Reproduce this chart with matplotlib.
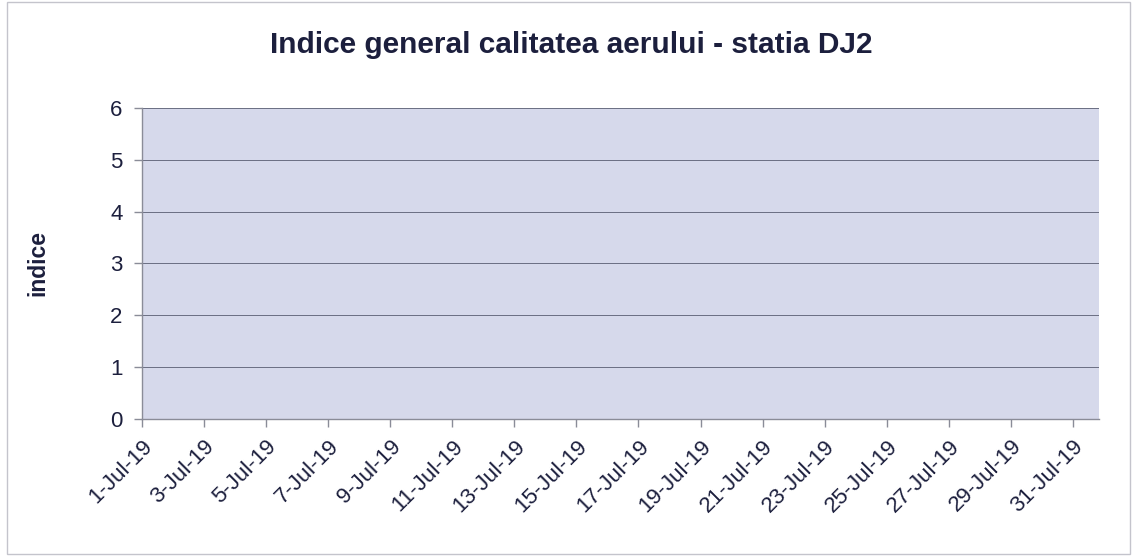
import matplotlib.pyplot as plt
import numpy as np
import pandas as pd

# daily dates for July 2019; the station reported no index values
dates = pd.date_range('2019-07-01', '2019-07-31', freq='D')
indice = [np.nan] * len(dates)
tickDates = dates[::2]
tickLabels = [f"{d.day}-Jul-19" for d in tickDates]

plt.rcParams['font.family'] = ['Liberation Sans', 'DejaVu Sans']
textColor = '#1c1f3d'

fig = plt.figure()
fig.set_size_inches(w=11.32, h=5.56)
fig.patch.set_facecolor('white')
# thin frame round the whole chart
fig.add_artist(plt.Rectangle((0.006, 0.004), 0.992, 0.992, transform=fig.transFigure,
                             fill=False, edgecolor='#c4c4cc', linewidth=1))

ax = fig.add_axes([0.1254, 0.2464, 0.8454, 0.5594])
ax.set_facecolor('#d6d9eb')
ax.plot(dates, indice, color='#1f3a93', linewidth=1.5)

ax.set_ylim(0, 6)
ax.set_yticks(range(0, 7))
ax.set_xlim(dates[0], dates[0] + pd.Timedelta(days=30.84))
ax.set_xticks(tickDates)
ax.set_xticklabels(tickLabels, rotation=45, ha='right', rotation_mode='anchor')

ax.grid(axis='y', color='#6a6e82', linewidth=0.7)
ax.set_axisbelow(True)
for s in ['top', 'right']:
    ax.spines[s].set_visible(False)
for s in ['left', 'bottom']:
    ax.spines[s].set_color('#8a8c98')
    ax.spines[s].set_linewidth(1)
ax.tick_params(axis='both', colors='#8a8c98', length=6, width=1,
               labelsize=16, labelcolor=textColor)
ax.tick_params(axis='x', pad=6)
ax.tick_params(axis='y', pad=8)

ax.set_ylabel('indice', fontsize=16.5, fontweight='bold', color=textColor, labelpad=44)
fig.suptitle('Indice general calitatea aerului - statia DJ2', fontsize=21.5,
             fontweight='bold', color=textColor, x=0.505, y=0.945)

fig.savefig('out.png', dpi=100)
